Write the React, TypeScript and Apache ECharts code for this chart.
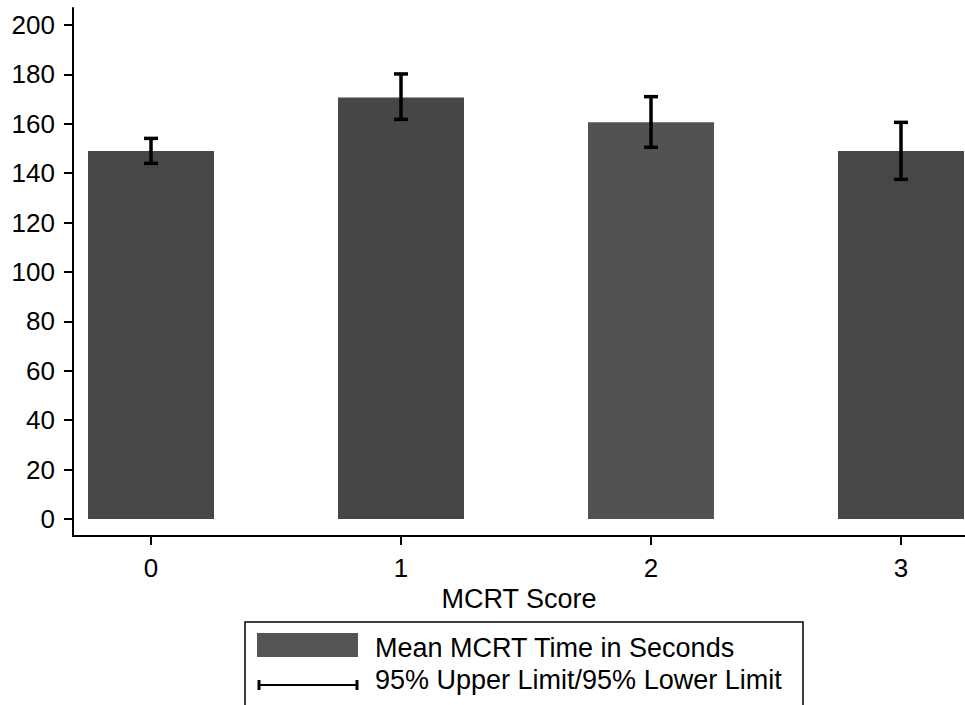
import React, { useEffect, useRef } from "react";
import * as echarts from "echarts";

const categories = ["0", "1", "2", "3"];
const xPositions = [0, 1, 2, 3];
const meanValues = [149.0, 170.7, 160.6, 149.0];
const upperLimits = [154.1, 180.2, 171.0, 160.6];
const lowerLimits = [144.0, 161.8, 150.5, 137.5];
const yTicks = [0, 20, 40, 60, 80, 100, 120, 140, 160, 180, 200];
const barColors = ["#474747", "#464646", "#525252", "#474747"];
const xTitle = "MCRT Score";
const legendBar = "Mean MCRT Time in Seconds";
const legendErr = "95% Upper Limit/95% Lower Limit";

const FONT = "'Liberation Sans', Arial, Helvetica, sans-serif";

export default function App() {
  const ref = useRef<HTMLDivElement>(null);
  useEffect(() => {
    if (!ref.current) return;
    const chart = echarts.init(ref.current, null, { renderer: "svg" });
    const option: any = {
      animation: false,
      backgroundColor: "#ffffff",
      grid: { left: 73, right: 0, top: 8, bottom: 169, containLabel: false },
      xAxis: {
        type: "value",
        min: -0.312,
        max: 3.256,
        name: xTitle,
        nameLocation: "middle",
        nameGap: 41,
        nameTextStyle: { color: "#000", fontFamily: FONT, fontSize: 27 },
        axisLine: { show: true, onZero: false, lineStyle: { color: "#000", width: 2 } },
        axisTick: { show: true, length: 9, customValues: xPositions, lineStyle: { color: "#000", width: 2 } },
        axisLabel: {
          customValues: xPositions,
          formatter: (v: number) => categories[Math.round(v)] ?? "",
          color: "#000",
          fontFamily: FONT,
          fontSize: 26,
          margin: 19,
        },
        splitLine: { show: false },
      },
      yAxis: {
        type: "value",
        min: -6.9,
        max: 206.9,
        axisLine: { show: true, onZero: false, lineStyle: { color: "#000", width: 2 } },
        axisTick: { show: true, length: 9, customValues: yTicks, lineStyle: { color: "#000", width: 2 } },
        axisLabel: {
          customValues: yTicks,
          color: "#000",
          fontFamily: FONT,
          fontSize: 26,
          margin: 18,
        },
        splitLine: { show: false },
      },
      series: [
        {
          type: "bar",
          name: legendBar,
          barWidth: 126,
          data: xPositions.map((x, i) => ({
            value: [x, meanValues[i]],
            itemStyle: { color: barColors[i] },
          })),
          z: 2,
        },
        {
          type: "custom",
          name: legendErr,
          z: 5,
          encode: { x: 0, y: [1, 2] },
          data: xPositions.map((x, i) => [x, lowerLimits[i], upperLimits[i]]),
          renderItem: (params: any, api: any) => {
            const x = api.value(0);
            const lo = api.value(1);
            const hi = api.value(2);
            const pHi = api.coord([x, hi]);
            const pLo = api.coord([x, lo]);
            const half = 7;
            const st = { stroke: "#000", lineWidth: 3.5 };
            return {
              type: "group",
              children: [
                { type: "line", shape: { x1: pHi[0], y1: pHi[1], x2: pLo[0], y2: pLo[1] }, style: st },
                { type: "line", shape: { x1: pHi[0] - half, y1: pHi[1], x2: pHi[0] + half, y2: pHi[1] }, style: st },
                { type: "line", shape: { x1: pLo[0] - half, y1: pLo[1], x2: pLo[0] + half, y2: pLo[1] }, style: st },
              ],
            };
          },
        },
      ],
      graphic: [
        {
          type: "rect",
          shape: { x: 245, y: 622, width: 558, height: 120 },
          style: { fill: "#fff", stroke: "#000", lineWidth: 1.5 },
        },
        {
          type: "rect",
          shape: { x: 257, y: 633, width: 101, height: 24 },
          style: { fill: "#555555" },
        },
        {
          type: "text",
          x: 375,
          y: 648,
          style: { text: legendBar, fill: "#000", font: `27px ${FONT}`, verticalAlign: "middle", align: "left" },
        },
        {
          type: "line",
          shape: { x1: 258, y1: 685, x2: 358, y2: 685 },
          style: { stroke: "#000", lineWidth: 2 },
        },
        {
          type: "line",
          shape: { x1: 259, y1: 680, x2: 259, y2: 690 },
          style: { stroke: "#000", lineWidth: 3 },
        },
        {
          type: "line",
          shape: { x1: 357, y1: 680, x2: 357, y2: 690 },
          style: { stroke: "#000", lineWidth: 3 },
        },
        {
          type: "text",
          x: 375,
          y: 680,
          style: { text: legendErr, fill: "#000", font: `27px ${FONT}`, verticalAlign: "middle", align: "left" },
        },
      ],
    };
    chart.setOption(option);
    return () => chart.dispose();
  }, []);
  return (
    <div
      ref={ref}
      style={{ position: "fixed", left: 0, top: 0, width: 965, height: 705, background: "#fff" }}
    />
  );
}
